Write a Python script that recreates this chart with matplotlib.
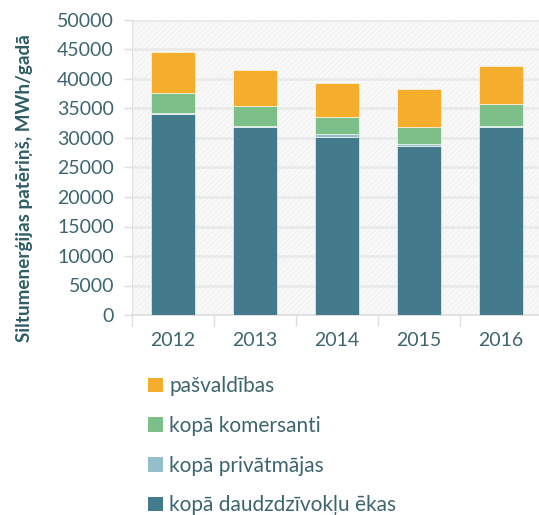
import matplotlib
matplotlib.use("Agg")
import matplotlib.pyplot as plt
from matplotlib.patches import Patch, Rectangle
import numpy as np

plt.rcParams['font.family'] = ['Lato', 'DejaVu Sans']
plt.rcParams['hatch.linewidth'] = 0.6

years = ['2012', '2013', '2014', '2015', '2016']
daudzdz = [34100, 31900, 30200, 28600, 31900]
privat = [100, 100, 400, 350, 100]
komers = [3500, 3500, 2900, 2900, 3800]
pasv = [6800, 6000, 5800, 6400, 6400]

labels = ['pašvaldības', 'kopā komersanti', 'kopā privātmājas', 'kopā daudzdzīvokļu ēkas']
colors = ['#f4ae2c', '#7dbf88', '#94bec9', '#437a8c']

txt_col = '#3d6570'
grid_col = '#e8eaea'

fig = plt.figure(figsize=(5.39, 5.15), dpi=100)
ax = fig.add_axes([132 / 539, 1 - 315 / 515, 410 / 539, 295 / 515])
ax.set_facecolor('#f8f8f8')
# faint diagonal texture behind the plot
ax.add_patch(Rectangle((0, 0), 1, 1, transform=ax.transAxes, facecolor='none',
                       hatch='//////', edgecolor='#f0f0f0', linewidth=0, zorder=0))

x = np.arange(len(years))
w = 0.54
bottom = np.zeros(len(years))
series = [daudzdz, privat, komers, pasv]
cols = [colors[3], colors[2], colors[1], colors[0]]
for vals, c in zip(series, cols):
    ax.bar(x, vals, w, bottom=bottom, color=c, edgecolor='#ffffff', linewidth=0.4, zorder=3)
    bottom += np.array(vals)

ax.set_ylim(0, 50000)
ax.set_xlim(-0.5, 4.5)
ax.set_yticks(np.arange(0, 50001, 5000))
ax.yaxis.grid(True, color=grid_col, linewidth=1.8, zorder=1)
ax.set_xticks(x)
ax.set_xticklabels(years)
ax.set_xticks(np.arange(-0.5, 4.6, 1), minor=True)
ax.tick_params(axis='x', which='major', length=0, pad=12, labelsize=14, labelcolor=txt_col)
ax.tick_params(axis='x', which='minor', length=8, color='#dddddd', width=1)
ax.tick_params(axis='y', length=6, color='#dddddd', width=1, pad=7, labelsize=14, labelcolor=txt_col)

for s in ['top', 'right']:
    ax.spines[s].set_visible(False)
ax.spines['left'].set_color('#e0e0e0')
ax.spines['bottom'].set_color('#dddddd')
ax.spines['bottom'].set_linewidth(1.2)

ax.set_ylabel('Siltumenerģijas patēriņš, MWh/gadā', fontsize=13.6, fontweight='bold',
              color='#2e5d66')
ax.yaxis.set_label_coords(-0.241, 0.43)

handles = [Patch(facecolor=c, edgecolor='none') for c in colors]
leg = fig.legend(handles, labels, loc='upper left', bbox_to_anchor=(140 / 539, 1 - 368 / 515),
                 frameon=False, fontsize=15, handlelength=0.7, handleheight=0.7,
                 handletextpad=0.3, labelspacing=0.94, borderaxespad=0)
for t in leg.get_texts():
    t.set_color(txt_col)

fig.savefig('out.png', dpi=100)
